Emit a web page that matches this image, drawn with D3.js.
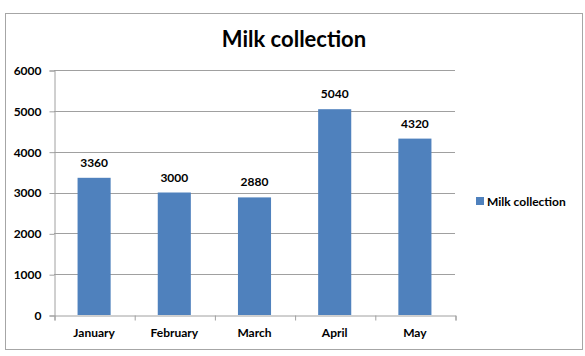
<!DOCTYPE html>
<html><head><meta charset="utf-8">
<script src="https://cdn.jsdelivr.net/npm/d3@7"></script>
<style>body{margin:0;background:#fff;} text{font-family:Lato, "Open Sans", sans-serif;font-weight:bold;}</style>
</head><body>
<svg id="c" width="585" height="356"></svg>
<script>
const categories = ["January","February","March","April","May"];
const values = [3360,3000,2880,5040,4320];
const yTicks = [0,1000,2000,3000,4000,5000,6000];
const seriesName = "Milk collection";
const title = "Milk collection";

const svg = d3.select("#c");
svg.append("rect").attr("x",5.5).attr("y",13.5).attr("width",577).attr("height",336)
  .attr("fill","#fff").attr("stroke","#a6a6a6").attr("stroke-width",1);

const L=54, R=455, T=70, B=315;
const x = d3.scaleBand().domain(categories).range([L,R]).paddingInner(0.5875).paddingOuter(0.29375);
const y = d3.scaleLinear().domain([0,6000]).range([B,T]);

svg.append("text").attr("x",294).attr("y",47).attr("text-anchor","middle")
  .attr("font-size",22).attr("fill","#000").text(title);

// gridlines
svg.append("g").selectAll("line").data(yTicks.filter(d=>d>0)).join("line")
  .attr("x1",L).attr("x2",R).attr("y1",d=>Math.round(y(d))+0.5).attr("y2",d=>Math.round(y(d))+0.5)
  .attr("stroke","#a0a0a0").attr("stroke-width",1);

// y axis
const ya = svg.append("g").attr("transform",`translate(${L+0.5},0.5)`)
  .call(d3.axisLeft(y).tickValues(yTicks).tickSize(5).tickPadding(8).tickFormat(d3.format("d")));
ya.select(".domain").attr("stroke","#a0a0a0");
ya.selectAll(".tick line").attr("stroke","#a0a0a0");
ya.selectAll(".tick text").attr("font-size",12).attr("fill","#000").attr("font-family","Lato").attr("font-weight","bold");

// bars
svg.append("g").selectAll("rect").data(values).join("rect")
  .attr("x",(d,i)=>x(categories[i])).attr("width",x.bandwidth())
  .attr("y",d=>y(d)).attr("height",d=>B-y(d)).attr("fill","#4f81bd");

// value labels
svg.append("g").selectAll("text").data(values).join("text")
  .attr("x",(d,i)=>x(categories[i])+x.bandwidth()/2).attr("y",d=>y(d)-11)
  .attr("text-anchor","middle").attr("font-size",12).attr("fill","#000").text(d=>d);

// x axis
const xa = svg.append("g").attr("transform",`translate(0.5,${B+0.5})`)
  .call(d3.axisBottom(d3.scaleLinear().domain([0,5]).range([L,R])).tickValues([0,1,2,3,4,5]).tickSize(5).tickFormat(""));
xa.select(".domain").attr("stroke","#a0a0a0");
xa.selectAll(".tick line").attr("stroke","#a0a0a0");
svg.append("g").selectAll("text").data(categories).join("text")
  .attr("x",d=>x(d)+x.bandwidth()/2).attr("y",337).attr("text-anchor","middle")
  .attr("font-size",12).attr("fill","#000").text(d=>d);

// legend
svg.append("rect").attr("x",476).attr("y",197).attr("width",8).attr("height",8).attr("fill","#4f81bd");
svg.append("text").attr("x",487).attr("y",205.5).attr("font-size",12).attr("fill","#000").text(seriesName);
</script>
</body></html>
